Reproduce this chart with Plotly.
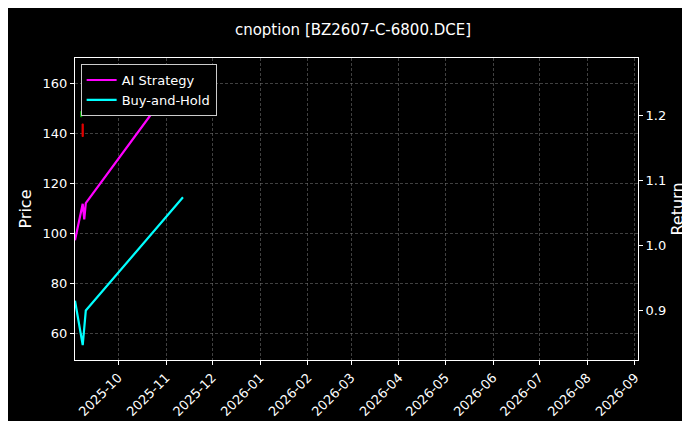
import plotly.graph_objects as go

candle_dates = ["2025-09-07", "2025-09-08"]
candle_open = [147.0, 143.5]
candle_high = [149.0, 144.0]
candle_low = [146.5, 138.5]
candle_close = [148.5, 139.0]

ai_dates = ["2025-09-03", "2025-09-08", "2025-09-09", "2025-09-10", "2025-11-12"]
ai_ret = [1.008, 1.064, 1.040, 1.065, 1.268]
bh_dates = ["2025-09-03", "2025-09-08", "2025-09-10", "2025-11-12"]
bh_ret = [0.915, 0.847, 0.900, 1.074]

x_ticks = ["2025-10-01", "2025-11-01", "2025-12-01", "2026-01-01", "2026-02-01", "2026-03-01",
           "2026-04-01", "2026-05-01", "2026-06-01", "2026-07-01", "2026-08-01", "2026-09-01"]
x_labels = [d[:7] for d in x_ticks]

fig = go.Figure()
fig.add_trace(go.Candlestick(x=candle_dates, open=candle_open, high=candle_high, low=candle_low,
                             close=candle_close, showlegend=False,
                             increasing=dict(line=dict(color="#00a000", width=1.5), fillcolor="#00a000"),
                             decreasing=dict(line=dict(color="#e00000", width=1.5), fillcolor="#e00000"),
                             whiskerwidth=0))
fig.add_trace(go.Scatter(x=ai_dates, y=ai_ret, mode="lines", name="AI Strategy",
                         line=dict(color="#ff00ff", width=2.2), yaxis="y2"))
fig.add_trace(go.Scatter(x=bh_dates, y=bh_ret, mode="lines", name="Buy-and-Hold",
                         line=dict(color="#00ffff", width=2.2), yaxis="y2"))

grid = dict(showgrid=True, gridcolor="rgba(128,128,128,0.5)", griddash="3px,2px", gridwidth=0.6)
fig.update_layout(
    width=690, height=421, paper_bgcolor="black", plot_bgcolor="black",
    font=dict(family="DejaVu Sans", color="white", size=13),
    title=dict(text="cnoption [BZ2607-C-6800.DCE]", x=0.5, xanchor="center", y=0.96, font=dict(size=15)),
    margin=dict(l=67, r=60, t=50, b=69),
    xaxis=dict(type="date", range=["2025-09-03", "2026-09-03"], tickvals=x_ticks, ticktext=x_labels,
               tickangle=-45, rangeslider=dict(visible=False), showline=True, linecolor="white",
               mirror=True, ticks="outside", tickcolor="white", ticklen=4, automargin=False, **grid),
    yaxis=dict(title=dict(text="Price", standoff=6), range=[49.2, 170.2], tickvals=[60, 80, 100, 120, 140, 160],
               showline=True, linecolor="white", mirror=True, ticks="outside", tickcolor="white",
               ticklen=4, zeroline=False, automargin=False, **grid),
    yaxis2=dict(title=dict(text="Return", standoff=6), overlaying="y", side="right", range=[0.824, 1.288],
                tickvals=[0.9, 1.0, 1.1, 1.2], ticktext=["0.9", "1.0", "1.1", "1.2"], showgrid=False,
                ticks="outside", tickcolor="white", ticklen=4, zeroline=False, automargin=False),
    legend=dict(x=0.01, y=0.98, xanchor="left", yanchor="top", bgcolor="black",
                bordercolor="#cccccc", borderwidth=1, font=dict(size=13)),
)
fig.write_html("out.html")
